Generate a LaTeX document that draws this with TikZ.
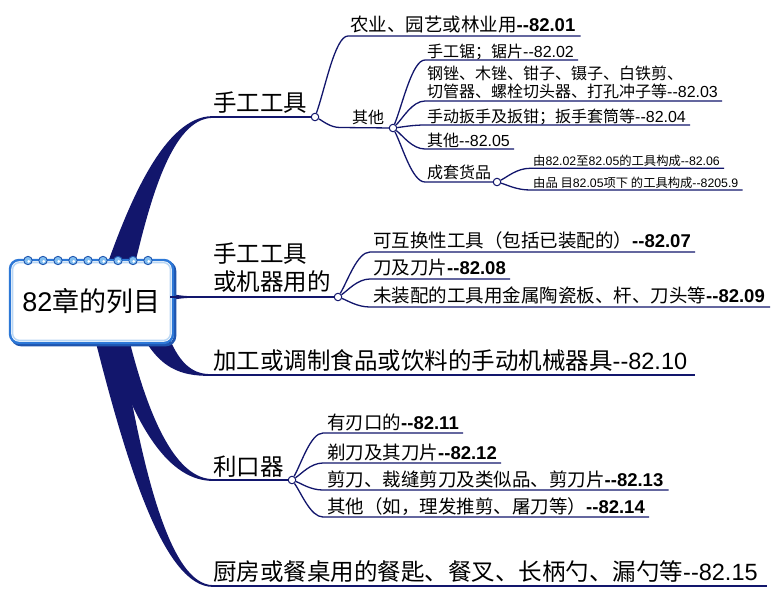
\documentclass[tikz,border=0pt]{standalone}
\usepackage{fontspec}
\setmainfont{Noto Sans CJK SC}
\newfontfamily\lat{Liberation Sans}
\newcommand\dd{\mbox{-}\mbox{-}}
\newcommand\nm[1]{{\lat #1}}
\newcommand\bn[1]{{\lat\bfseries #1}}
\usetikzlibrary{calc}
\definecolor{brnavy}{RGB}{18,22,108}
\definecolor{boxblue}{RGB}{45,120,215}
\definecolor{boxdark}{RGB}{30,85,175}
\definecolor{boxlight}{RGB}{185,215,245}
\definecolor{ringlight}{RGB}{130,190,240}
\begin{document}
\begin{tikzpicture}[x=1pt,y=-1pt,
  L1/.style={anchor=base west, inner sep=0pt, font=\fontsize{23.5}{26}\selectfont},
  L2/.style={anchor=base west, inner sep=0pt, font=\fontsize{18.5}{20}\selectfont},
  L3/.style={anchor=base west, inner sep=0pt, font=\fontsize{16}{18}\selectfont},
  L4/.style={anchor=base west, inner sep=0pt, font=\fontsize{12.3}{14}\selectfont},
  main/.style={draw=brnavy, line width=1.8pt},
  sub/.style={draw=brnavy, line width=1.3pt},
  jn/.style={circle, draw=brnavy, fill=white, line width=1pt, inner sep=0pt, minimum size=7.5pt},
  rootbox/.style={draw=boxblue, fill=white, line width=2.4pt, rounded corners=9pt,
    minimum width=163pt, minimum height=83pt, inner sep=0pt, font=\fontsize{27}{29}\selectfont}
]
\fill[white] (0,0) rectangle (781,598);
\useasboundingbox (0,0) rectangle (781,598);

% tapered main branches
\fill[brnavy] (106,268) .. controls (130,200) and (165,117) .. (212,116.1)
  -- (212,117.9) .. controls (172,119) and (150,200) .. (134,268) -- cycle;
\fill[brnavy] (142,335) .. controls (160,368) and (180,376) .. (210,375.9)
  -- (210,374.1) .. controls (190,374) and (178,360) .. (168,335) -- cycle;
\fill[brnavy] (106,335) .. controls (135,430) and (170,481) .. (213,480.9)
  -- (213,479.1) .. controls (178,479) and (150,425) .. (128,335) -- cycle;
\fill[brnavy] (94,335) .. controls (128,470) and (165,587) .. (213,586.9)
  -- (213,585.1) .. controls (170,585) and (142,470) .. (120,335) -- cycle;
\fill[brnavy] (168,293.5) .. controls (185,296.3) .. (205,296.1)
  -- (205,297.9) .. controls (185,297.7) .. (168,300.5) -- cycle;

% root box
\draw[boxdark, line width=2.6pt, rounded corners=9pt] (12,262) rectangle (175,345);
\node[rootbox] (root) at (91.5,301.5) {\nm{82}章的列目};
\draw[boxlight, line width=1.4pt, rounded corners=7pt] (12.6,262.6) rectangle (170.4,340.4);
\foreach \i in {0,...,8} {
  \draw[boxdark, fill=ringlight, line width=0.9pt] (28+15*\i,260.5) circle (4.2);
  \fill[white] (28.8+15*\i,261.3) circle (1.5);
}

% junctions
\node[jn] (j1) at (315,117) {};
\node[jn] (j2) at (393,128) {};
\node[jn] (j3) at (497,182) {};
\node[jn] (j4) at (338,297) {};
\node[jn] (j5) at (292,480) {};

% level-1 texts
\node[L1] (tA) at (213,111.5) {手工工具};
\node[L1] (tB1) at (213,262) {手工工具};
\node[L1] (tB2) at (213,290.5) {或机器用的};
\node[L1] (tC) at (213,369.5) {加工或调制食品或饮料的手动机械器具\nm{\dd82.10}};
\node[L1] (tD) at (213,475) {利口器};
\node[L1] (tE) at (213,580.5) {厨房或餐桌用的餐匙、餐叉、长柄勺、漏勺等\nm{\dd82.15}};

% level-2 texts
\node[L2] (t01) at (350,31.5) {农业、园艺或林业用\bn{\dd82.01}};
\node[L2] (t07) at (373,247.5) {可互换性工具（包括已装配的）\bn{\dd82.07}};
\node[L2] (t08) at (373,274.5) {刀及刀片\bn{\dd82.08}};
\node[L2] (t09) at (373,302.5) {未装配的工具用金属陶瓷板、杆、刀头等\bn{\dd82.09}};
\node[L2] (t11) at (327,429) {有刃口的\bn{\dd82.11}};
\node[L2] (t12) at (327,459) {剃刀及其刀片\bn{\dd82.12}};
\node[L2] (t13) at (327,486) {剪刀、裁缝剪刀及类似品、剪刀片\bn{\dd82.13}};
\node[L2] (t14) at (327,513) {其他（如，理发推剪、屠刀等）\bn{\dd82.14}};

% level-3 texts
\node[L3] (tO) at (352,123) {其他};
\node[L3] (t02) at (427,57) {手工锯；锯片\nm{\dd82.02}};
\node[L3] (t03a) at (427,79.5) {钢锉、木锉、钳子、镊子、白铁剪、};
\node[L3] (t03b) at (427,97.5) {切管器、螺栓切头器、打孔冲子等\nm{\dd82.03}};
\node[L3] (t04) at (427,122) {手动扳手及扳钳；扳手套筒等\nm{\dd82.04}};
\node[L3] (t05) at (427,146) {其他\nm{\dd82.05}};
\node[L3] (tS) at (427,178) {成套货品};

% level-4 texts
\node[L4] (t06) at (533,165.5) {由\nm{82.02}至\nm{82.05}的工具构成\nm{\dd82.06}};
\node[L4] (t59) at (533,187.5) {由品 目\nm{82.05}项下 的工具构成\nm{\dd8205.9}};

% anchor coordinates
\coordinate (pA) at (211,117);
\coordinate (pB) at (170,297);
\coordinate (pC) at (209,375);
\coordinate (pD) at (212,480);
\coordinate (pE) at (212,586);
\coordinate (s01) at (348,36);
\coordinate (sO) at (340,127.5);
\coordinate (s02) at (425,60);
\coordinate (s03) at (425,101);
\coordinate (s04) at (425,125);
\coordinate (s05) at (425,149);
\coordinate (sS) at (425,182);
\coordinate (s06) at (530,168.3);
\coordinate (s59) at (530,190);
\coordinate (s07) at (370,252);
\coordinate (s08) at (370,279);
\coordinate (s09) at (370,307);
\coordinate (s11) at (323,433);
\coordinate (s12) at (323,463);
\coordinate (s13) at (323,490);
\coordinate (s14) at (323,517);

% level-1 lines
\draw[main] (pA) -- (j1);
\draw[main] (pB) -- (j4);
\draw[main] (pC) -- (tC.east |- pC) -- ++(8,0);
\draw[main] (pD) -- (j5);
\draw[main] (pE) -- (tE.east |- pE) -- ++(9,0);

% from j1
\draw[sub] (j1) .. controls (325,89) and (335,36) .. (s01) -- (t01.east |- s01) -- ++(5,0);
\draw[sub] (j1) .. controls (322.5,120.7) and (330,127.5) .. (sO) -- (j2);
% from j2
\draw[sub] (j2) .. controls (402.6,104.2) and (412.2,60) .. (s02) -- (t02.east |- s02) -- ++(4,0);
\draw[sub] (j2) .. controls (402.6,118.6) and (412.2,101) .. (s03) -- (t03b.east |- s03) -- ++(4,0);
\draw[sub] (j2) .. controls (402.6,127) and (412.2,125) .. (s04) -- (t04.east |- s04) -- ++(4,0);
\draw[sub] (j2) .. controls (402.6,135.4) and (412.2,149) .. (s05) -- (t05.east |- s05) -- ++(4,0);
\draw[sub] (j2) .. controls (402.6,146.9) and (412.2,182) .. (sS) -- (j3);
% from j3
\draw[sub] (j3) .. controls (506.9,177.2) and (516.8,168.3) .. (s06) -- (t06.east |- s06) -- ++(4,0);
\draw[sub] (j3) .. controls (506.9,184.8) and (516.8,190) .. (s59) -- (t59.east |- s59) -- ++(4,0);
% from j4
\draw[sub] (j4) .. controls (347.6,281.3) and (357.2,252) .. (s07) -- (t07.east |- s07) -- ++(4,0);
\draw[sub] (j4) .. controls (347.6,290.7) and (357.2,279) .. (s08) -- (t08.east |- s08) -- ++(4,0);
\draw[sub] (j4) .. controls (347.6,300.5) and (357.2,307) .. (s09) -- (t09.east |- s09) -- ++(5,0);
% from j5
\draw[sub] (j5) .. controls (301.3,463.6) and (310.6,433) .. (s11) -- (t11.east |- s11) -- ++(4,0);
\draw[sub] (j5) .. controls (301.3,474) and (310.6,463) .. (s12) -- (t12.east |- s12) -- ++(4,0);
\draw[sub] (j5) .. controls (301.3,483.5) and (310.6,490) .. (s13) -- (t13.east |- s13) -- ++(5,0);
\draw[sub] (j5) .. controls (301.3,493) and (310.6,517) .. (s14) -- (t14.east |- s14) -- ++(4,0);
\end{tikzpicture}
\end{document}
